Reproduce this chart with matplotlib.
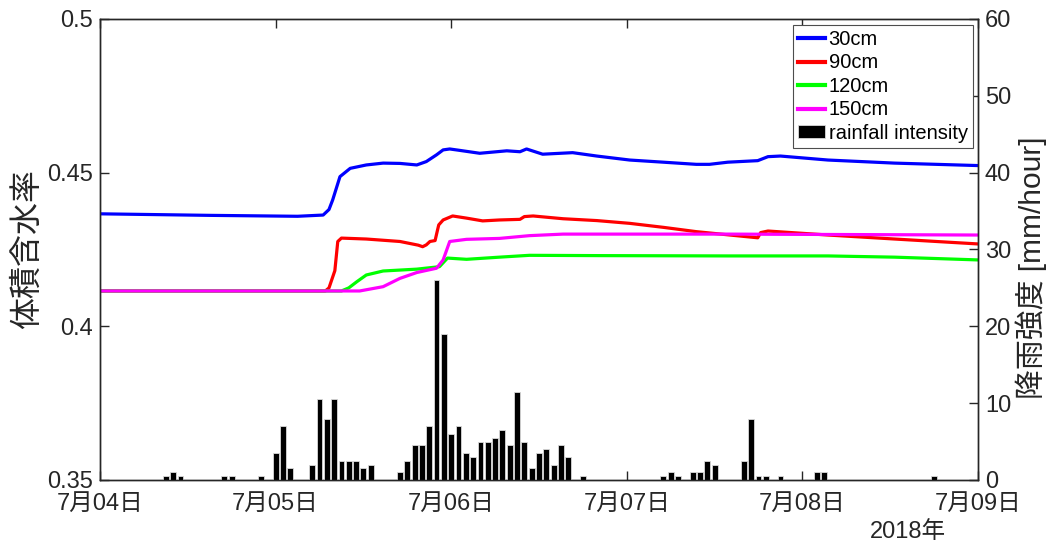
import matplotlib
matplotlib.use('Agg')
import matplotlib.pyplot as plt

plt.rcParams['font.family'] = ['Liberation Sans', 'Noto Sans CJK JP', 'DejaVu Sans']

# x axis: hours since 2018-07-04 00:00
day_ticks = [0, 24, 48, 72, 96, 120]
day_labels = ['7月04日', '7月05日', '7月06日', '7月07日', '7月08日', '7月09日']

# hourly rainfall intensity [mm/hour]
rain_hours = [9, 10, 11, 17, 18, 22, 24, 25, 26,
              29, 30, 31, 32, 33, 34, 35, 36, 37,
              41, 42, 43, 44, 45, 46, 47, 48, 49, 50, 51, 52,
              53, 54, 55, 56, 57, 58, 59, 60, 61, 62, 63, 64,
              66, 77, 78, 79, 81, 82, 83, 84, 88, 89, 90, 91, 93, 98, 99, 114]
rain = [0.5, 1, 0.5, 0.5, 0.5, 0.5, 3.5, 7, 1.5,
        2, 10.5, 8, 10.5, 2.5, 2.5, 2.5, 1.5, 2,
        1, 2.5, 4.5, 4.5, 7, 26, 19, 6, 7, 3.5, 3, 5,
        5, 5.5, 6.5, 4.5, 11.5, 5, 1.5, 3.5, 4, 2, 4.5, 3,
        0.5, 0.5, 1, 0.5, 1, 1, 2.5, 2, 2.5, 8, 0.5, 0.5, 0.5, 1, 1, 0.5]

# volumetric water content, read at sample hours
h30 = [0, 15, 27, 30.5, 31.3, 31.8, 32.8, 34.2, 36.4, 38.7, 41, 43.3, 44.6, 46, 46.9,
       47.8, 49, 51.9, 55.6, 57.4, 58.3, 60.5, 64.6, 67.9, 72.4, 77, 81.5, 83.3,
       85.8, 89.9, 91.3, 93, 99.5, 108.6, 120]
wc30 = [0.4366, 0.4361, 0.4358, 0.4362, 0.4380, 0.4411, 0.4487, 0.4514, 0.4525, 0.4531,
        0.4530, 0.4525, 0.4536, 0.4558, 0.4574, 0.4577, 0.4573, 0.4563, 0.4571, 0.4568,
        0.4577, 0.4560, 0.4565, 0.4554, 0.4541, 0.4534, 0.4527, 0.4527, 0.4534, 0.4539,
        0.4552, 0.4554, 0.4541, 0.4531, 0.4523]

h90 = [0, 30.8, 31.3, 32.1, 32.5, 33, 36.4, 41, 43.5, 44.1, 44.6, 45.1, 45.8, 46.1,
       46.3, 46.9, 48.2, 50.1, 52.3, 54.6, 57.4, 58, 59.2, 63.3, 67.9, 72.4, 77,
       81.5, 86.1, 89.9, 90.3, 91.3, 99.5, 108.6, 120]
wc90 = [0.4115, 0.4115, 0.4125, 0.4181, 0.4276, 0.4287, 0.4284, 0.4276, 0.4264, 0.4259,
        0.4265, 0.4276, 0.4279, 0.4310, 0.4330, 0.4346, 0.4359, 0.4352, 0.4343, 0.4346,
        0.4348, 0.4357, 0.4359, 0.4350, 0.4344, 0.4335, 0.4322, 0.4308, 0.4297, 0.4288,
        0.4305, 0.4310, 0.4297, 0.4284, 0.4268]

h120 = [0, 33, 34, 35.1, 36.4, 38.7, 43.3, 46.4, 47.5, 50.1, 54.6, 58.7, 68.3, 85.8,
        99.5, 108.6, 120]
wc120 = [0.4115, 0.4115, 0.4125, 0.4145, 0.4167, 0.4180, 0.4186, 0.4194, 0.4222, 0.4218,
         0.4225, 0.4231, 0.4230, 0.4229, 0.4229, 0.4225, 0.4216]

h150 = [0, 35.5, 38.7, 41, 43.3, 46, 46.9, 47.8, 50.1, 54.6, 58.7, 63.3, 85.8, 120]
wc150 = [0.4115, 0.4115, 0.4129, 0.4156, 0.4175, 0.4189, 0.4216, 0.4276, 0.4283, 0.4286,
         0.4295, 0.4300, 0.4300, 0.4297]

text_color = '#262626'

fig = plt.figure(figsize=(10.48, 5.45), dpi=100)
ax = fig.add_axes([0.0954, 0.1193, 0.8378, 0.8459])
ax2 = ax.twinx()

l1, = ax.plot(h30, wc30, color=(0, 0, 1), lw=2.3)
l2, = ax.plot(h90, wc90, color=(1, 0, 0), lw=2.3)
l3, = ax.plot(h120, wc120, color=(0, 1, 0), lw=2.3)
l4, = ax.plot(h150, wc150, color=(1, 0, 1), lw=2.3)

bars = ax2.bar(rain_hours, rain, width=0.8, color='black', edgecolor='0.85', linewidth=0.6)

ax.set_xlim(0, 120)
ax.set_ylim(0.35, 0.5)
ax2.set_ylim(0, 60)

ax.set_xticks(day_ticks)
ax.set_xticklabels(day_labels)
ax.set_yticks([0.35, 0.4, 0.45, 0.5])
ax.set_yticklabels(['0.35', '0.4', '0.45', '0.5'])
ax2.set_yticks([0, 10, 20, 30, 40, 50, 60])

ax.tick_params(axis='both', direction='in', length=6.5, width=1, labelsize=17,
               colors=text_color, top=True)
ax.tick_params(axis='x', pad=9)
ax.tick_params(axis='y', pad=5)
ax2.tick_params(axis='y', direction='in', length=6.5, width=1, labelsize=17,
                colors=text_color, pad=5)
for a in (ax, ax2):
    for s in a.spines.values():
        s.set_color(text_color)
        s.set_linewidth(1)

fig.text(27.5 / 1048, 1 - 249.5 / 545, '体積含水率', rotation=90, ha='center', va='center',
         fontsize=23, color=text_color)
fig.text(1031 / 1048, 1 - 268 / 545, '降雨強度 [mm/hour]', rotation=90, ha='center', va='center',
         fontsize=21.5, color=text_color)
fig.text(908 / 1048, 1 - 532 / 545, '2018年', ha='center', va='center',
         fontsize=17, color=text_color)

leg = ax2.legend([l1, l2, l3, l4, bars], ['30cm', '90cm', '120cm', '150cm', 'rainfall intensity'],
                 loc='upper right', bbox_to_anchor=(0.994, 0.987), borderaxespad=0,
                 fontsize=14.5, fancybox=False, framealpha=1, edgecolor='0.3',
                 handlelength=1.3, handleheight=0.6, handletextpad=0.2,
                 labelspacing=0.22, borderpad=0.25)
leg.get_frame().set_linewidth(0.8)
for ln in leg.get_lines():
    ln.set_linewidth(3)

fig.savefig('out.png', dpi=100)
